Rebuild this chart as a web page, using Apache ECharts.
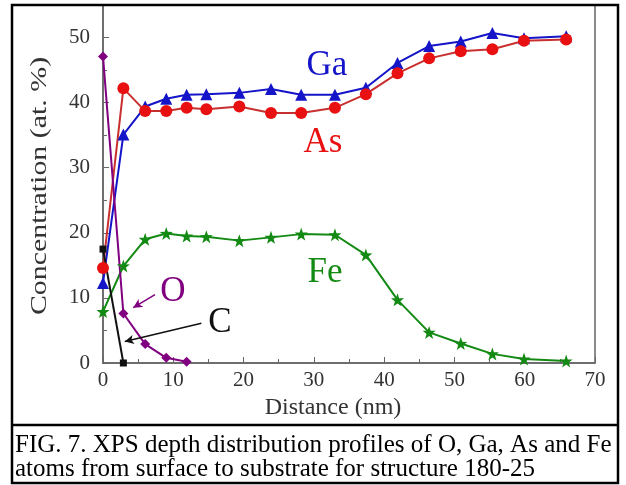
<!DOCTYPE html>
<html>
<head>
<meta charset="utf-8">
<script src="https://cdn.jsdelivr.net/npm/echarts@6/dist/echarts.min.js"></script>
<style>
  html, body { margin: 0; padding: 0; background: #fff; }
  #chart { width: 626px; height: 485px; }
</style>
</head>
<body>
<div id="chart"></div>
<script>
// Sputter depth (nm) at which each XPS spectrum was taken
const depth = [0, 2.9, 6, 9, 11.9, 14.7, 19.4, 23.9, 28.2, 33, 37.4, 41.9, 46.4, 50.9, 55.4, 59.9, 65.9];
const depthO = [0, 2.9, 6, 9, 11.9];
const depthC = [0, 2.9];

// Atomic concentrations (at. %)
const gaConc = [12.3, 35.1, 39.4, 40.6, 41.2, 41.3, 41.5, 42.1, 41.2, 41.2, 42.3, 46.1, 48.7, 49.4, 50.7, 49.9, 50.2];
const asConc = [14.6, 42.2, 38.7, 38.7, 39.2, 39.0, 39.4, 38.4, 38.4, 39.2, 41.3, 44.5, 46.8, 47.9, 48.2, 49.5, 49.7];
const feConc = [7.9, 14.9, 19.0, 19.9, 19.5, 19.4, 18.8, 19.3, 19.8, 19.7, 16.6, 9.7, 4.7, 3.0, 1.4, 0.6, 0.3];
const oConc = [47.1, 7.6, 2.9, 0.8, 0.2];
const cConc = [17.5, 0];

const xTicks = [0, 10, 20, 30, 40, 50, 60, 70];
const yTicks = [0, 10, 20, 30, 40, 50];

const caption = [
  'FIG. 7. XPS depth distribution profiles of O, Ga, As and Fe',
  'atoms from surface to substrate for structure 180-25'
];

const FONT = 'Liberation Serif';
const pair = (xs, ys) => xs.map((x, i) => [x, ys[i]]);

function lineSeries(name, xs, ys, color, symbol, size, extra) {
  return Object.assign({
    name: name,
    type: 'line',
    data: pair(xs, ys),
    symbol: symbol,
    symbolSize: size,
    lineStyle: { color: color, width: 2 },
    itemStyle: { color: color },
    animation: false
  }, extra || {});
}

function label(text, x, y, color, size) {
  return {
    type: 'text', x: x, y: y, z: 50,
    style: { text: text, fontFamily: FONT, fontSize: size, fill: color, align: 'center', verticalAlign: 'middle' }
  };
}

const chart = echarts.init(document.getElementById('chart'), null, { renderer: 'canvas' });

chart.setOption({
  backgroundColor: '#fff',
  animation: false,
  grid: { left: 103, right: 31, top: 5, bottom: 122, show: true, borderColor: '#666', borderWidth: 1.5 },
  xAxis: {
    type: 'value', min: xTicks[0], max: xTicks[xTicks.length - 1], interval: 10,
    axisLine: { lineStyle: { color: '#666', width: 1.5 } },
    axisTick: { inside: true, length: 6, lineStyle: { color: '#666' } },
    minorTick: { show: true, splitNumber: 2, length: 4, lineStyle: { color: '#666' } },
    splitLine: { show: false },
    axisLabel: { fontFamily: FONT, fontSize: 21, color: '#333', margin: 7 }
  },
  yAxis: {
    type: 'value', min: yTicks[0], max: 55, interval: 10,
    axisLine: { lineStyle: { color: '#666', width: 1.5 } },
    axisTick: { inside: true, length: 6, lineStyle: { color: '#666' } },
    minorTick: { show: true, splitNumber: 2, length: 4, lineStyle: { color: '#666' } },
    splitLine: { show: false },
    axisLabel: { fontFamily: FONT, fontSize: 21, color: '#333', margin: 13, showMaxLabel: false }
  },
  series: [
    lineSeries('Fe', depth, feConc, '#138a13', 'path://M0,-10L2.35,-3.24L9.51,-3.09L3.8,1.24L5.88,8.09L0,4L-5.88,8.09L-3.8,1.24L-9.51,-3.09L-2.35,-3.24Z', 13),
    lineSeries('Ga', depth, gaConc, '#1414c8', 'triangle', 12),
    lineSeries('As', depth, asConc, '#e81010', 'circle', 12, { lineStyle: { color: '#c83030', width: 2 } }),
    lineSeries('O', depthO, oConc, '#800080', 'diamond', 10, {
      markLine: {
        silent: true, symbol: ['arrow', 'none'], symbolSize: [7, 9],
        lineStyle: { color: '#800080', width: 1.5, type: 'solid' },
        label: { show: false },
        data: [[{ coord: [4.3, 8.5] }, { coord: [7.4, 10.5] }]]
      }
    }),
    lineSeries('C', depthC, cConc, '#111', 'rect', 7, {
      markLine: {
        silent: true, symbol: ['arrow', 'none'], symbolSize: [7, 9],
        lineStyle: { color: '#111', width: 1.5, type: 'solid' },
        label: { show: false },
        data: [[{ coord: [3.1, 3.3] }, { coord: [14.0, 6.1] }]]
      }
    })
  ],
  graphic: [
    label('Ga', 327, 66, '#1414c8', 35),
    label('As', 323, 143, '#e81010', 35),
    label('Fe', 325, 273, '#138a13', 35),
    label('O', 173, 292, '#800080', 35),
    label('C', 220, 323, '#111', 35),
    // axis titles
    label('Distance (nm)', 333, 408, '#333', 24),
    {
      // vertical title, stretched along its length
      type: 'text', x: 40, y: 186, rotation: Math.PI / 2, scaleX: 1.3, scaleY: 1, z: 50,
      style: { text: 'Concentration (at. %)', fontFamily: FONT, fontSize: 23, fill: '#333', align: 'center', verticalAlign: 'middle' }
    },
    // figure frame and caption
    { type: 'rect', shape: { x: 12, y: 5, width: 606, height: 478 }, style: { fill: 'none', stroke: '#000', lineWidth: 2.5 }, z: 100 },
    { type: 'line', shape: { x1: 12, y1: 425, x2: 618, y2: 425 }, style: { stroke: '#000', lineWidth: 2.5 }, z: 100 },
    { type: 'text', x: 15, y: 445, z: 50, style: { text: caption[0], fontFamily: FONT, fontSize: 25, fill: '#000', verticalAlign: 'middle' } },
    { type: 'text', x: 15, y: 469, z: 50, style: { text: caption[1], fontFamily: FONT, fontSize: 25, fill: '#000', verticalAlign: 'middle' } }
  ]
});
</script>
</body>
</html>
